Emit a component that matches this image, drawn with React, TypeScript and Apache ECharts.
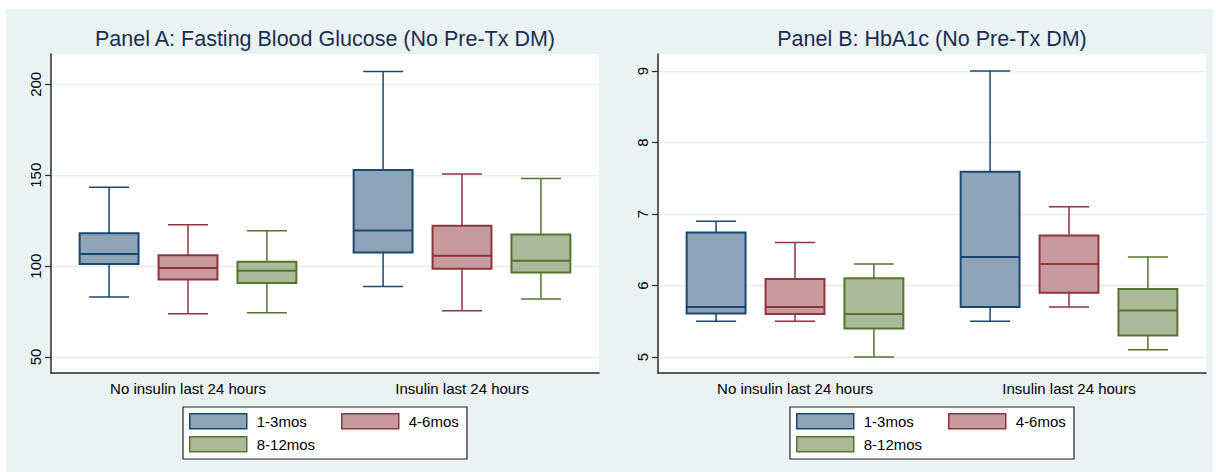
import React, { useEffect, useRef } from 'react';
import * as echarts from 'echarts';

// ---- data ----
const categories = ['No insulin last 24 hours', 'Insulin last 24 hours'];
const seriesNames = ['1-3mos', '4-6mos', '8-12mos'];

// each entry: [min, q1, median, q3, max] for each category
const fbg1to3 = [
  [83.0, 101.1, 106.6, 118.1, 143.4],
  [88.8, 107.5, 119.6, 152.9, 207.1],
];
const fbg4to6 = [
  [73.8, 92.7, 98.9, 106.0, 122.7],
  [75.5, 98.5, 105.7, 122.2, 150.7],
];
const fbg8to12 = [
  [74.4, 90.7, 97.4, 102.4, 119.4],
  [81.9, 96.5, 102.9, 117.4, 148.2],
];

const hba1to3 = [
  [5.5, 5.61, 5.7, 6.74, 6.9],
  [5.5, 5.7, 6.4, 7.59, 9.0],
];
const hba4to6 = [
  [5.5, 5.6, 5.7, 6.09, 6.6],
  [5.7, 5.9, 6.3, 6.7, 7.1],
];
const hba8to12 = [
  [5.0, 5.4, 5.6, 6.1, 6.3],
  [5.1, 5.3, 5.65, 5.95, 6.4],
];

const yTicksA = [50, 100, 150, 200];
const yTicksB = [5, 6, 7, 8, 9];
const titleA = 'Panel A: Fasting Blood Glucose (No Pre-Tx DM)';
const titleB = 'Panel B: HbA1c (No Pre-Tx DM)';

// ---- styles ----
const strokes = ['#1a476f', '#90353b', '#55752f'];
const fills = ['#8da3b7', '#c89a9d', '#aab997'];
const FONT = '"Liberation Sans", Arial, Helvetica, sans-serif';
const BG = '#eaf2f3';
const AXIS = '#2a2a2a';

const SPACING = 0.288; // fraction of band between box centres
const BOXW = 0.215; // box width, fraction of band
const CAPW = 0.146; // whisker cap width, fraction of band

// legend item offsets inside legend box (relative to box's left/top)
const LEG_POS = [
  [6, 6],
  [158, 6],
  [6, 29],
];

function makeRender(k: number, idx: number) {
  return (params: any, api: any) => {
    const cat = api.value(0);
    const bw = api.size([1, 0])[0];
    const cx = api.coord([cat, 0])[0] + (k - 1) * SPACING * bw;
    const yy = (d: number) => api.coord([cat, api.value(d)])[1];
    const yMin = yy(1), yQ1 = yy(2), yMed = yy(3), yQ3 = yy(4), yMax = yy(5);
    const hb = (BOXW * bw) / 2;
    const hc = (CAPW * bw) / 2;
    const stroke = strokes[idx];
    const wStyle = { stroke, lineWidth: 1.5 };
    return {
      type: 'group',
      children: [
        { type: 'line', shape: { x1: cx, y1: yMax, x2: cx, y2: yQ3 }, style: wStyle },
        { type: 'line', shape: { x1: cx, y1: yQ1, x2: cx, y2: yMin }, style: wStyle },
        { type: 'line', shape: { x1: cx - hc, y1: yMax, x2: cx + hc, y2: yMax }, style: wStyle },
        { type: 'line', shape: { x1: cx - hc, y1: yMin, x2: cx + hc, y2: yMin }, style: wStyle },
        {
          type: 'rect',
          shape: { x: cx - hb, y: yQ3, width: 2 * hb, height: yQ1 - yQ3 },
          style: { fill: fills[idx], stroke, lineWidth: 2 },
        },
        { type: 'line', shape: { x1: cx - hb, y1: yMed, x2: cx + hb, y2: yMed }, style: { stroke, lineWidth: 2 } },
      ],
    };
  };
}

function toData(arr: number[][]) {
  return arr.map((v, i) => [i, ...v]);
}

function legendsFor(boxLeft: number, boxTop: number) {
  return seriesNames.map((n, i) => ({
    left: boxLeft + LEG_POS[i][0],
    top: boxTop + LEG_POS[i][1],
    orient: 'horizontal',
    padding: 0,
    itemWidth: 57,
    itemHeight: 15,
    icon: 'rect',
    selectedMode: false,
    textStyle: { fontSize: 15, color: '#000', fontFamily: FONT, padding: [0, 0, 0, 5] },
    data: [
      {
        name: n,
        itemStyle: { color: fills[i], borderColor: strokes[i], borderWidth: 1.5 },
      },
    ],
  }));
}

function xAxisOpt(gridIndex: number) {
  return {
    type: 'category',
    gridIndex,
    data: categories,
    boundaryGap: true,
    axisTick: { show: false },
    axisLine: { show: true, onZero: false, lineStyle: { color: AXIS, width: 1.5 } },
    axisLabel: { fontSize: 15, color: '#000', fontFamily: FONT, margin: 8 },
    splitLine: { show: false },
  };
}

function yAxisOpt(gridIndex: number, min: number, max: number, splitNumber: number, ticks: number[]) {
  return {
    type: 'value',
    gridIndex,
    min,
    max,
    splitNumber,
    axisLine: { show: true, onZero: false, lineStyle: { color: AXIS, width: 1.5 } },
    axisTick: { show: true, length: 6, customValues: ticks, lineStyle: { color: AXIS, width: 1.2 } },
    axisLabel: {
      rotate: 90,
      margin: 8,
      fontSize: 15,
      color: '#000',
      fontFamily: FONT,
      customValues: ticks,
    },
    splitLine: { show: true, lineStyle: { color: '#e6eeef', width: 1.3 } },
  };
}

export default function App() {
  const ref = useRef<HTMLDivElement>(null);
  useEffect(() => {
    if (!ref.current) return;
    const chart = echarts.init(ref.current, undefined, { renderer: 'svg' });
    const panelA = [fbg1to3, fbg4to6, fbg8to12];
    const panelB = [hba1to3, hba4to6, hba8to12];
    const series: any[] = [];
    panelA.forEach((arr, i) => {
      series.push({
        type: 'custom',
        name: seriesNames[i],
        xAxisIndex: 0,
        yAxisIndex: 0,
        itemStyle: { color: fills[i], borderColor: strokes[i] },
        renderItem: makeRender(i, i),
        encode: { x: 0, y: [1, 2, 3, 4, 5] },
        data: toData(arr),
      });
    });
    panelB.forEach((arr, i) => {
      series.push({
        type: 'custom',
        name: seriesNames[i],
        xAxisIndex: 1,
        yAxisIndex: 1,
        itemStyle: { color: fills[i], borderColor: strokes[i] },
        renderItem: makeRender(i, i),
        encode: { x: 0, y: [1, 2, 3, 4, 5] },
        data: toData(arr),
      });
    });

    const legendBox = (x: number) => ({
      type: 'rect',
      z: -50,
      shape: { x, y: 407, width: 284, height: 52 },
      style: { fill: '#ffffff', stroke: '#222222', lineWidth: 1.2 },
    });

    chart.setOption({
      animation: false,
      textStyle: { fontFamily: FONT },
      graphic: [
        { type: 'rect', z: -100, shape: { x: 6, y: 9, width: 1207, height: 463 }, style: { fill: BG } },
        legendBox(183),
        legendBox(790),
        {
          type: 'text',
          x: 325,
          y: 39,
          style: { text: titleA, fontSize: 21.5, fill: '#1c2e50', fontFamily: FONT, textAlign: 'center', textVerticalAlign: 'middle' },
        },
        {
          type: 'text',
          x: 932,
          y: 39,
          style: { text: titleB, fontSize: 21.5, fill: '#1c2e50', fontFamily: FONT, textAlign: 'center', textVerticalAlign: 'middle' },
        },
      ],
      grid: [
        { left: 51, top: 54, width: 548, height: 319, show: true, backgroundColor: '#ffffff', borderWidth: 0 },
        { left: 658, top: 54, width: 548, height: 319, show: true, backgroundColor: '#ffffff', borderWidth: 0 },
      ],
      xAxis: [xAxisOpt(0), xAxisOpt(1)],
      yAxis: [
        yAxisOpt(0, 41.2, 216.7, 3, yTicksA),
        yAxisOpt(1, 4.776, 9.238, 4, yTicksB),
      ],
      legend: [...legendsFor(183, 407), ...legendsFor(790, 407)],
      series,
    });
    return () => chart.dispose();
  }, []);
  return (
    <div
      ref={ref}
      style={{ position: 'absolute', left: 0, top: 0, width: 1216, height: 472, background: '#ffffff' }}
    />
  );
}
